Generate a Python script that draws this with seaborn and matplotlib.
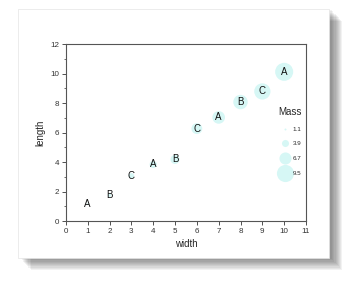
import matplotlib
matplotlib.use("Agg")
import matplotlib.pyplot as plt
import seaborn as sns
import pandas as pd
import numpy as np
from matplotlib.lines import Line2D
from matplotlib.patches import Rectangle

width = [1, 2, 3, 4, 5, 6, 7, 8, 9, 10]
length = [1.15, 1.76, 3.07, 3.84, 4.18, 6.27, 7.03, 8.07, 8.79, 10.12]
mass = [1.1, 2.0, 3.0, 4.0, 5.0, 6.0, 7.0, 8.0, 9.0, 10.0]
labels = ["A", "B", "C", "A", "B", "C", "A", "B", "C", "A"]
legend_mass = [1.1, 3.9, 6.7, 9.5]

sns.set_theme(style="white")
plt.rcParams["font.family"] = ["Liberation Sans", "DejaVu Sans"]

df = pd.DataFrame({"width": width, "length": length, "mass": mass, "label": labels})

fig = plt.figure(figsize=(3.6, 3.0), dpi=100)
fig.patch.set_facecolor("white")

# soft card shadow and card
for i in range(10):
    off = 0.0025 * (i + 1)
    fig.patches.append(Rectangle((0.055 + off * 1.2, 0.14 - off * 1.6), 0.865, 0.83,
                                 transform=fig.transFigure, facecolor="black",
                                 alpha=0.05, edgecolor="none", zorder=0))
fig.patches.append(Rectangle((0.05, 0.14), 0.865, 0.83, transform=fig.transFigure,
                             facecolor="white", edgecolor="#e4e4e4", lw=0.5, zorder=1))

ax = fig.add_axes([0.183, 0.263, 0.667, 0.59])
ax.set_zorder(5)
ax.set_facecolor("none")

# diameter proportional to mass -> area proportional to mass^2
k = 1.3  # points per mass unit (diameter)
df["area"] = (df["mass"] * k) ** 2
sns.scatterplot(data=df, x="width", y="length", size="area",
                sizes=(df["area"].min(), df["area"].max()),
                color="#ccf5f3", alpha=0.8, edgecolor="none", legend=False, ax=ax)

for x, y, t in zip(width, length, labels):
    ax.text(x, y, t, ha="center", va="center", fontsize=7, color="#111111")

ax.set_xlim(0, 11)
ax.set_ylim(0, 12)
ax.set_xticks(range(0, 12))
ax.set_yticks(range(0, 13, 2))
ax.set_yticks(range(1, 12, 2), minor=True)
ax.set_xlabel("width", fontsize=7, labelpad=3)
ax.set_ylabel("length", fontsize=7, labelpad=3)
ax.tick_params(axis="both", which="major", direction="out", length=3, width=0.6,
               labelsize=5.8, colors="#333333", pad=2, bottom=True, left=True)
ax.tick_params(axis="y", which="minor", direction="out", length=1.8, width=0.5,
               colors="#333333", left=True)
for s in ax.spines.values():
    s.set_color("#555555")
    s.set_linewidth(0.8)

handles = [Line2D([], [], marker="o", linestyle="none", markersize=m * k,
                  markerfacecolor="#ccf5f3", markeredgecolor="none", alpha=0.8)
           for m in legend_mass]
leg = ax.legend(handles, [str(m) for m in legend_mass], title="Mass",
                loc="center right", bbox_to_anchor=(1.0, 0.45), frameon=False,
                fontsize=4.5, title_fontsize=7, labelspacing=1.5,
                handletextpad=0.3, borderaxespad=0.3)

fig.savefig("out.png", dpi=100, facecolor="white")
